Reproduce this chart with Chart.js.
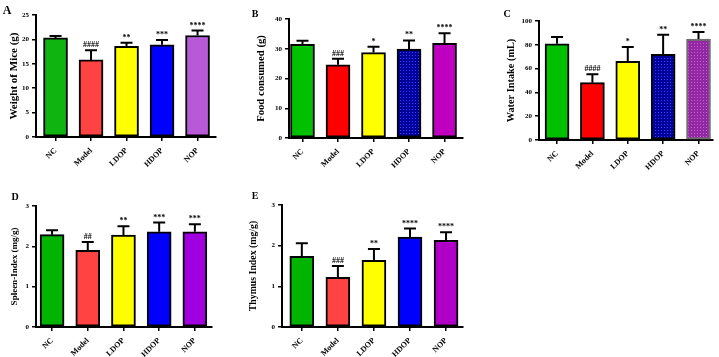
<!DOCTYPE html>
<html>
<head>
<meta charset="utf-8">
<script src="https://cdn.jsdelivr.net/npm/chart.js"></script>
<style>
  body { margin: 0; background: #fff; width: 719px; height: 357px; position: relative; overflow: hidden; font-family: "Liberation Serif", serif; }
  .panel { position: absolute; }
  .tag { position: absolute; font-weight: bold; line-height: 1; transform: translate(-50%, -50%); color: #000; }
</style>
</head>
<body>
<div class="panel" style="left:0;top:0;width:240px;height:180px"><canvas id="chartA"></canvas></div>
<div class="panel" style="left:240px;top:0;width:240px;height:180px"><canvas id="chartB"></canvas></div>
<div class="panel" style="left:480px;top:0;width:239px;height:180px"><canvas id="chartC"></canvas></div>
<div class="panel" style="left:0;top:180px;width:240px;height:177px"><canvas id="chartD"></canvas></div>
<div class="panel" style="left:240px;top:180px;width:240px;height:177px"><canvas id="chartE"></canvas></div>
<div class="tag" style="left:7px;top:10px;font-size:12px">A</div>
<div class="tag" style="left:255px;top:14px;font-size:10px">B</div>
<div class="tag" style="left:507px;top:14px;font-size:10px">C</div>
<div class="tag" style="left:15px;top:197px;font-size:10px">D</div>
<div class="tag" style="left:255px;top:196px;font-size:10px">E</div>
<script>
const groups = ["NC", "Model", "LDOP", "HDOP", "NOP"];

// A: body weight
const weightMean = [20.3, 15.8, 18.6, 18.9, 20.8];
const weightSem = [0.4, 2.0, 0.7, 1.0, 1.0];
const weightMarks = ["", "####", "**", "***", "****"];

// B: food consumed
const foodMean = [31.5, 24.6, 28.7, 29.9, 31.8];
const foodSem = [1.2, 2.0, 2.0, 2.9, 3.4];
const foodMarks = ["", "###", "*", "**", "****"];

// C: water intake
const waterMean = [80.8, 48.2, 66.2, 72.0, 84.8];
const waterSem = [5.8, 7.0, 12.0, 16.5, 6.0];
const waterMarks = ["", "####", "*", "**", "****"];

// D: spleen index
const spleenMean = [2.29, 1.90, 2.28, 2.36, 2.36];
const spleenSem = [0.11, 0.21, 0.22, 0.23, 0.19];
const spleenMarks = ["", "##", "**", "***", "***"];

// E: thymus index
const thymusMean = [1.74, 1.22, 1.64, 2.21, 2.13];
const thymusSem = [0.32, 0.28, 0.28, 0.21, 0.20];
const thymusMarks = ["", "###", "**", "****", "****"];

const serif = "'Liberation Serif', 'Times New Roman', serif";

function dotted(base, dot) {
    const c = document.createElement("canvas");
    c.width = 3;
    c.height = 3;
    const g = c.getContext("2d");
    g.fillStyle = base;
    g.fillRect(0, 0, 3, 3);
    g.fillStyle = dot;
    g.fillRect(1, 1, 1, 1);
    return g.createPattern(c, "repeat");
}

// error bars (upper only) + significance marks
const errorBars = {
    id: "errorBars",
    afterDatasetsDraw(chart) {
        const ds = chart.data.datasets[0];
        const meta = chart.getDatasetMeta(0);
        const y = chart.scales.y;
        const ctx = chart.ctx;
        ctx.save();
        ctx.strokeStyle = "#000";
        ctx.fillStyle = "#000";
        ctx.lineWidth = 2;
        ctx.font = "bold 8px " + serif;
        ctx.textAlign = "center";
        ctx.textBaseline = "alphabetic";
        meta.data.forEach((bar, i) => {
            const top = y.getPixelForValue(ds.mean[i]);
            const cap = y.getPixelForValue(ds.mean[i] + ds.sem[i]);
            ctx.beginPath();
            ctx.moveTo(bar.x, top);
            ctx.lineTo(bar.x, cap);
            ctx.moveTo(bar.x - 6, cap);
            ctx.lineTo(bar.x + 6, cap);
            ctx.stroke();
            if (ds.marks[i]) ctx.fillText(ds.marks[i], bar.x, cap - 3);
        });
        ctx.restore();
    }
};

function drawPanel(id, cfg) {
    new Chart(document.getElementById(id), {
        type: "bar",
        data: {
            datasets: [{
                data: groups.map((g, i) => ({ x: i, y: cfg.mean[i] })),
                mean: cfg.mean,
                sem: cfg.sem,
                marks: cfg.marks,
                backgroundColor: cfg.colors,
                borderColor: cfg.borders || "#000",
                borderWidth: 2,
                borderSkipped: false,
                barThickness: 24
            }]
        },
        options: {
            responsive: true,
            maintainAspectRatio: false,
            animation: false,
            layout: { padding: cfg.pad },
            plugins: {
                legend: { display: false },
                tooltip: { enabled: false }
            },
            scales: {
                x: {
                    type: "linear",
                    min: cfg.xMin,
                    max: cfg.xMax,
                    offset: false,
                    afterBuildTicks: s => { s.ticks = groups.map((g, i) => ({ value: i })); },
                    afterFit: s => { s.height = cfg.xH; },
                    grid: { drawOnChartArea: false, offset: false, color: "#000", lineWidth: 1.5, tickLength: 4 },
                    border: { color: "#000", width: 2 },
                    ticks: {
                        callback: v => groups[v],
                        autoSkip: false,
                        minRotation: 45,
                        maxRotation: 45,
                        padding: 5,
                        color: "#000",
                        font: { family: serif, weight: "bold", size: 8 }
                    }
                },
                y: {
                    min: 0,
                    max: cfg.yMax,
                    afterFit: s => { s.width = cfg.yW; },
                    grid: { drawOnChartArea: false, color: "#000", lineWidth: 1.5, tickLength: 4 },
                    border: { color: "#000", width: 2 },
                    ticks: {
                        stepSize: cfg.step,
                        padding: 3,
                        color: "#000",
                        font: { family: serif, weight: "bold", size: 7 }
                    },
                    title: {
                        display: true,
                        text: cfg.title,
                        color: "#000",
                        font: { family: serif, weight: "bold", size: cfg.titleSize },
                        padding: { top: cfg.titlePad, bottom: 0 }
                    }
                }
            }
        },
        plugins: [errorBars]
    });
}

drawPanel("chartA", {
    mean: weightMean, sem: weightSem, marks: weightMarks,
    colors: ["#10b410", "#ff4343", "#ffff00", "#0000ff", "#b85ad8"],
    title: "Weight of Mice (g)", titleSize: 11, titlePad: 7.5,
    yMax: 25, step: 5,
    pad: { left: 0, top: 15, right: 24, bottom: 0 }, yW: 36, xH: 43,
    xMin: -0.55, xMax: 4.52
});

drawPanel("chartB", {
    mean: foodMean, sem: foodSem, marks: foodMarks,
    colors: ["#00c000", "#ff0000", "#ffff00", dotted("#00009a", "#3a3aff"), "#c000c0"],
    title: "Food consumed (g)", titleSize: 10.7, titlePad: 15,
    yMax: 40, step: 10,
    pad: { left: 0, top: 19, right: 17, bottom: 0 }, yW: 49, xH: 42,
    xMin: -0.38, xMax: 4.52
});

drawPanel("chartC", {
    mean: waterMean, sem: waterSem, marks: waterMarks,
    colors: ["#00c000", "#ff0000", "#ffff00", dotted("#00009a", "#3a3aff"), dotted("#9428a4", "#c860d0")],
    borders: ["#000", "#000", "#000", "#000", "#6e6e6e"],
    title: "Water Intake (mL)", titleSize: 10.3, titlePad: 25.5,
    yMax: 100, step: 20,
    pad: { left: 0, top: 21, right: 6, bottom: 0 }, yW: 59, xH: 40,
    xMin: -0.51, xMax: 4.41
});

drawPanel("chartD", {
    mean: spleenMean, sem: spleenSem, marks: spleenMarks,
    colors: ["#00b400", "#ff4343", "#ffff00", "#0000ff", "#a000e0"],
    title: "Spleen-Index (mg/g)", titleSize: 9, titlePad: 9.6,
    yMax: 3, step: 1,
    pad: { left: 0, top: 26, right: 28, bottom: 0 }, yW: 36, xH: 30,
    xMin: -0.45, xMax: 4.48
});

drawPanel("chartE", {
    mean: thymusMean, sem: thymusSem, marks: thymusMarks,
    colors: ["#00b400", "#ff4343", "#ffff00", "#0000ff", "#b000c8"],
    title: "Thymus Index (mg/g)", titleSize: 9.8, titlePad: 7.4,
    yMax: 3, step: 1,
    pad: { left: 0, top: 25, right: 17, bottom: 0 }, yW: 42, xH: 30,
    xMin: -0.55, xMax: 4.47
});
</script>
</body>
</html>
